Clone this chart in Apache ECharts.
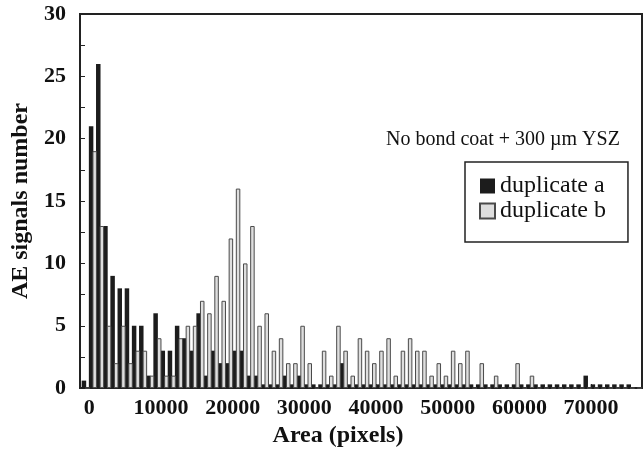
<!DOCTYPE html>
<html>
<head>
<meta charset="utf-8">
<script src="https://cdn.jsdelivr.net/npm/echarts@6/dist/echarts.min.js"></script>
<style>
  html, body { margin: 0; padding: 0; background: #fff; }
  #chart { width: 644px; height: 453px; }
</style>
</head>
<body>
<div id="chart"></div>
<script>
// bins of 1000 px area, first bin starts at -1000
var binStart = -1000;
var binWidth = 1000;

// duplicate a (black), bins -1 .. 76
var dupA = [0.6, 21, 26, 13, 9, 8, 8, 5, 5, 1, 6,
    3, 3, 5, 4, 3, 6, 1, 3, 2, 2,
    3, 3, 1, 1, 0.3, 0.3, 0.3, 1, 0.3, 1,
    0.3, 0.3, 0.3, 0.3, 0.3, 2, 0.3, 0.3, 0.3, 0.3,
    0.3, 0.3, 0.3, 0.3, 0.3, 0.3, 0.3, 0.3, 0.3, 0.3,
    0.3, 0.3, 0.3, 0.3, 0.3, 0.3, 0.3, 0.3, 0.3, 0.3,
    0.3, 0.3, 0.3, 0.3, 0.3, 0.3, 0.3, 0.3, 0.3, 1,
    0.3, 0.3, 0.3, 0.3, 0.3, 0.3, 0];

// duplicate b (light), bins -1 .. 76
var dupB = [0, 19, 13, 5, 2, 5, 2, 3, 3, 1, 4,
    1, 1, 4, 5, 5, 7, 6, 9, 7, 12,
    16, 10, 13, 5, 6, 3, 4, 2, 2, 5,
    2, 0, 3, 1, 5, 3, 1, 4, 3, 2,
    3, 4, 1, 3, 4, 3, 3, 1, 2, 1,
    3, 2, 3, 0, 2, 0, 1, 0, 0, 2,
    0, 1, 0, 0, 0, 0, 0, 0, 0, 0,
    0, 0, 0, 0, 0, 0, 0];

var xTicks = [0, 10000, 20000, 30000, 40000, 50000, 60000, 70000];

var serif = 'Liberation Serif';

function toPairs(vals) {
    var out = [];
    for (var i = 0; i < vals.length; i++) {
        out.push([binStart + i * binWidth + binWidth / 2, vals[i]]);
    }
    return out;
}

var chart = echarts.init(document.getElementById('chart'), null, {renderer: 'canvas'});

var option = {
    animation: false,
    backgroundColor: '#fff',
    title: {
        text: 'No bond coat + 300 µm YSZ',
        left: 386,
        top: 130,
        padding: 0,
        textStyle: {fontFamily: serif, fontWeight: 'normal', fontSize: 20, color: '#111'}
    },
    legend: {
        orient: 'vertical',
        left: 465,
        top: 162,
        data: ['duplicate a', 'duplicate b'],
        icon: 'rect',
        borderColor: '#222',
        borderWidth: 1.5,
        padding: [12, 22, 19, 14],
        itemGap: 1,
        itemWidth: 15,
        itemHeight: 15,
        textStyle: {fontFamily: serif, fontSize: 24, color: '#111'}
    },
    grid: {
        left: 80, right: 2, top: 14, bottom: 62,
        show: true,
        borderColor: '#222',
        borderWidth: 2
    },
    xAxis: {
        type: 'value',
        min: -1300,
        max: 77100,
        name: 'Area (pixels)',
        nameLocation: 'middle',
        nameGap: 33,
        nameTextStyle: {
            fontFamily: serif, fontWeight: 'bold', fontSize: 24, color: '#111',
            padding: [0, 46, 0, 0]
        },
        axisLine: {onZero: false, lineStyle: {color: '#222', width: 2}},
        axisTick: {inside: true, length: 4, customValues: xTicks, lineStyle: {color: '#222'}},
        axisLabel: {
            customValues: xTicks,
            margin: 9,
            fontFamily: serif, fontWeight: 'bold', fontSize: 22, color: '#111',
            formatter: function (v) { return String(v); }
        },
        splitLine: {show: false}
    },
    yAxis: {
        type: 'value',
        min: 0,
        max: 30,
        interval: 2.5,
        name: 'AE signals number',
        nameLocation: 'middle',
        nameGap: 46,
        nameTextStyle: {fontFamily: serif, fontWeight: 'bold', fontSize: 24, color: '#111'},
        axisLine: {show: true, onZero: false, lineStyle: {color: '#222', width: 2}},
        axisTick: {show: true, inside: true, length: 5, lineStyle: {color: '#222'}},
        axisLabel: {
            margin: 14,
            fontFamily: serif, fontWeight: 'bold', fontSize: 22, color: '#111',
            formatter: function (v) { return v % 5 === 0 ? String(v) : ''; }
        },
        splitLine: {show: false}
    },
    series: [{
        name: 'duplicate a',
        type: 'bar',
        barWidth: 4.5,
        barGap: '-20%',
        itemStyle: {color: '#1c1c1c'},
        data: toPairs(dupA)
    }, {
        name: 'duplicate b',
        type: 'bar',
        barWidth: 4.5,
        barGap: '-20%',
        itemStyle: {color: '#dedede', borderColor: '#4a4a4a', borderWidth: 1},
        data: toPairs(dupB)
    }]
};

chart.setOption(option);
</script>
</body>
</html>
